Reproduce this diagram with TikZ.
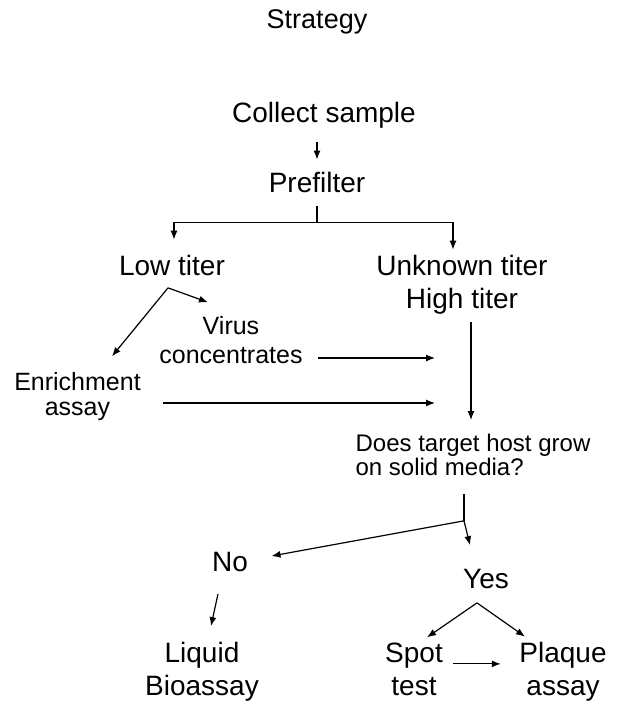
\documentclass[tikz,border=0pt]{standalone}
\usepackage{fontspec}
\setmainfont{Liberation Sans}
\usepackage{tikz}
\usetikzlibrary{arrows.meta}
\newcommand\tightlines{\lineskiplimit=-30pt\relax}
\tikzset{>={Latex[length=9pt,width=7pt]}}
\tikzset{big/.style={inner sep=0pt,anchor=base,align=center,font=\fontsize{28}{33}\selectfont},
  small/.style={inner sep=0pt,anchor=base,align=center,font=\fontsize{25}{29}\selectfont}}

\begin{document}
\begin{tikzpicture}[x=1pt,y=-1pt,line width=1.2pt]
       \useasboundingbox (0,0) rectangle (619,709);
       \node[big,font=\fontsize{27}{30}\selectfont] (strategy) at (317,29) {Strategy};
       \node[big] (collect) at (324,122) {Collect sample};
       \node[big] (prefilter) at (317,192) {Prefilter};
       \node[big] (low) at (172,275) {Low titer};
       \node[big] (unknown) at (462,308) {Unknown titer\\High titer};
       \node[small] (virus) at (231,363) {Virus\\concentrates};
       \node[small,font=\fontsize{25}{25}\selectfont\tightlines] (enrich) at (77.5,415) {Enrichment\\assay};
       \node[small,anchor=base west,align=left,font=\fontsize{24}{24}\selectfont\tightlines] (does) at (355,475) {Does target host grow\\on solid media?};
       \node[big] (no) at (230,571) {No};
       \node[big] (yes) at (486,588) {Yes};
       \node[big] (liquid) at (202,695) {Liquid\\Bioassay};
       \node[big] (spot) at (414,695) {Spot\\test};
       \node[big] (plaque) at (563,695) {Plaque\\assay};
       % top part
       \draw[->,shorten <=14pt,shorten >=11.5pt] (collect.south -| prefilter.north) -- (prefilter.north);
       \coordinate (split) at ([yshift=-30pt]prefilter.south);
       \draw[shorten <=13pt] (prefilter.south) -- (split);
       \draw[->,shorten >=14.5pt] (split) -| ([xshift=2pt]low.north);
       \draw[->,shorten >=4.5pt] (split) -| ([xshift=-9pt]unknown.north);
       % low titer branch
       \coordinate (lowfork) at ([xshift=-4pt,yshift=-12pt]low.south);
       \draw[->] (lowfork) -- ([xshift=34.5pt,yshift=15pt]enrich.north);
       \draw[->] (lowfork) -- ([xshift=-23pt,yshift=13pt]virus.north);
       \coordinate (vin) at (435,358);
       \coordinate (ein) at (435,403);
       \draw[->,shorten <=15pt] (virus.east |- vin) -- (vin);
       \draw[->,shorten <=22pt] (enrich.east |- ein) -- (ein);
       \draw[->,shorten <=8pt,shorten >=13pt] ([xshift=9pt]unknown.south) -- ([xshift=9pt]unknown.south |- does.north);
       % host question
       \coordinate (dsplit) at ([xshift=-9pt,yshift=-45pt]does.south);
       \draw[shorten <=18pt] (does.south -| dsplit) -- (dsplit);
       \draw[->] (dsplit) -- ([xshift=-16pt,yshift=23pt]yes.north);
       \draw[->] (dsplit) -- ([xshift=23pt,yshift=5.5pt]no.east);
       \draw[->] ([xshift=-12pt,yshift=-22pt]no.south) -- ([xshift=9pt,yshift=15pt]liquid.north);
       \coordinate (yesfork) at ([xshift=-9pt,yshift=-14pt]yes.south);
       \draw[->] (yesfork) -- ([xshift=13pt,yshift=4.5pt]spot.north);
       \draw[->] (yesfork) -- ([xshift=-38pt,yshift=4.5pt]plaque.north);
       \draw[->,shorten <=10pt,shorten >=18pt] ([yshift=5pt]spot.east) -- ([yshift=5pt]spot.east -| plaque.west);
      \end{tikzpicture}
\end{document}
